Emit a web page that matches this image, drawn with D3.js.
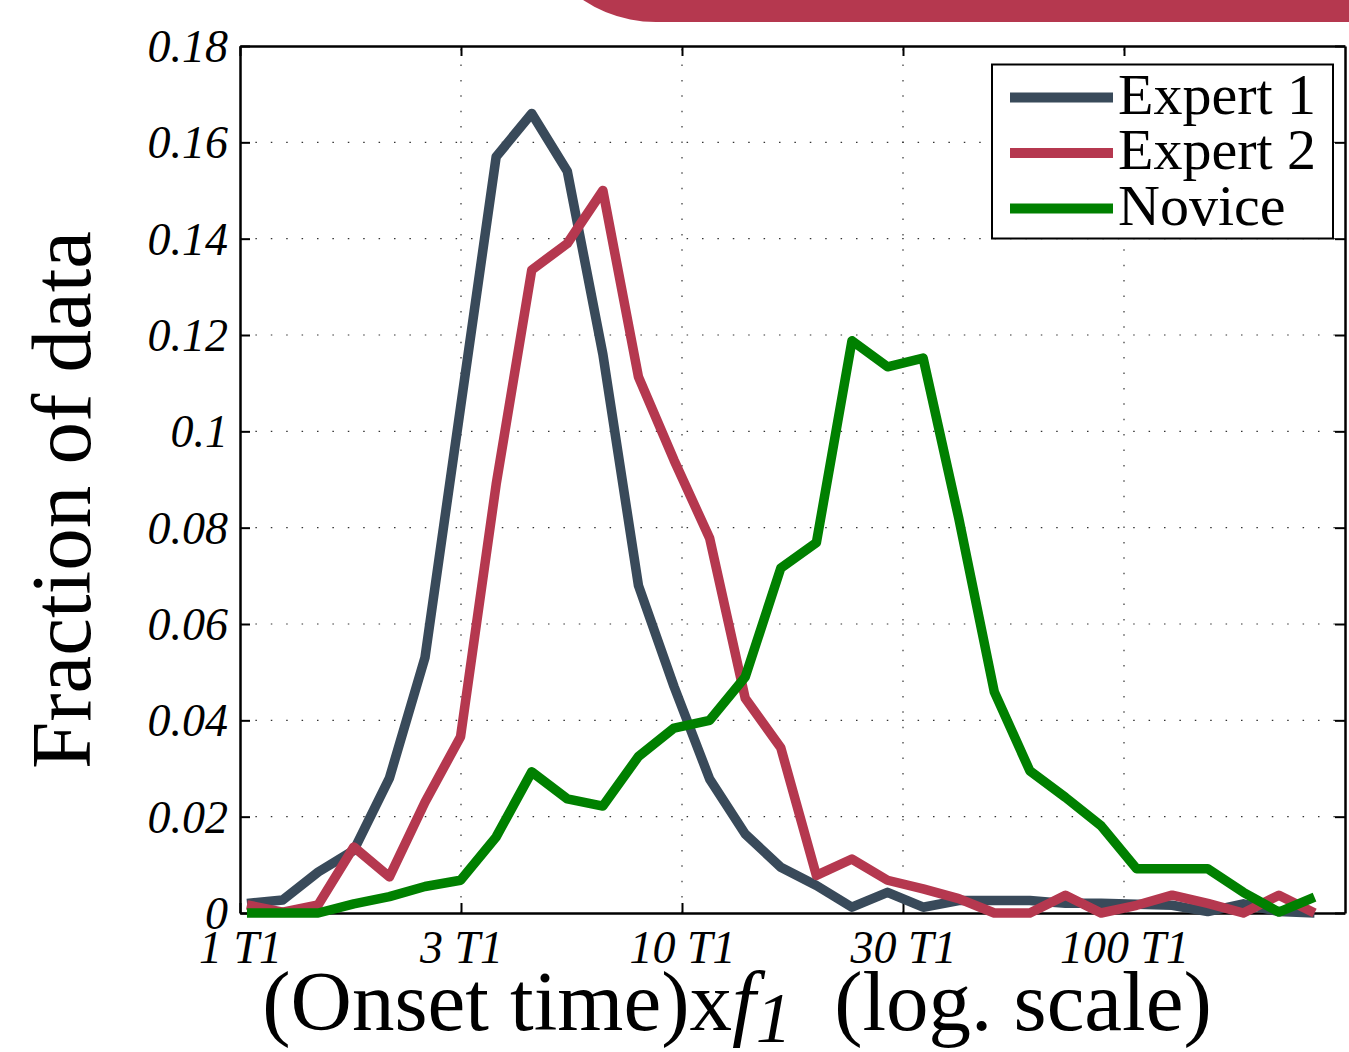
<!DOCTYPE html>
<html><head><meta charset="utf-8">
<script src="https://cdn.jsdelivr.net/npm/d3@7"></script>
<style>html,body{margin:0;padding:0;background:#fff;overflow:hidden;}</style>
</head><body>
<svg id="c" width="1349" height="1052"></svg>
<script>
// ---- data ----
const binCenters = [1.037, 1.249, 1.503, 1.809, 2.178, 2.621, 3.155, 3.798, 4.571, 5.502, 6.622, 7.970, 9.594, 11.55, 13.90, 16.73, 20.14, 24.24, 29.17, 35.12, 42.27, 50.88, 61.24, 73.71, 88.72, 106.8, 128.5, 154.7, 186.2, 224.1, 269.8];
const expert1 = [0.002, 0.0027, 0.0085, 0.013, 0.028, 0.053, 0.105, 0.157, 0.166, 0.154, 0.116, 0.068, 0.047, 0.0278, 0.0164, 0.0095, 0.0057, 0.0012, 0.0043, 0.0012, 0.0026, 0.0026, 0.0026, 0.002, 0.002, 0.0018, 0.0016, 0.0003, 0.0019, 0.0003, 0];
const expert2 = [0.0017, 0.0002, 0.0017, 0.0137, 0.0075, 0.023, 0.0366, 0.089, 0.1335, 0.139, 0.150, 0.1113, 0.094, 0.0778, 0.0446, 0.0343, 0.0078, 0.0112, 0.0068, 0.005, 0.003, 0, 0, 0.0037, 0, 0.0016, 0.0037, 0.002, 0, 0.0037, 0];
const novice = [0, 0, 0, 0.0019, 0.0034, 0.0055, 0.0068, 0.0158, 0.0293, 0.0237, 0.0222, 0.0325, 0.0384, 0.040, 0.049, 0.0716, 0.0769, 0.1188, 0.1134, 0.1152, 0.082, 0.0459, 0.0295, 0.024, 0.0181, 0.0092, 0.0092, 0.0092, 0.0043, 0.0002, 0.0033];
const seriesNames = ["Expert 1", "Expert 2", "Novice"];
const seriesColors = ["#394a5a", "#b5384f", "#008000"];
const xTickValues = [1, 3.1623, 10, 31.623, 100];
const xTickLabels = ["1 T1", "3 T1", "10 T1", "30 T1", "100 T1"];
const yTickValues = [0, 0.02, 0.04, 0.06, 0.08, 0.1, 0.12, 0.14, 0.16, 0.18];
const yTickLabels = ["0", "0.02", "0.04", "0.06", "0.08", "0.1", "0.12", "0.14", "0.16", "0.18"];
const xDomain = [1, 316.23];
const yDomain = [0, 0.18];

// ---- layout ----
const svg = d3.select("#c");
const L = 240, R = 1345, T = 46, B = 913;
const x = d3.scaleLog().domain(xDomain).range([L, R]);
const y = d3.scaleLinear().domain(yDomain).range([B, T]);
const serif = "'Liberation Serif','Times New Roman',serif";

// decorative banner top right
svg.append("rect").attr("x", 524).attr("y", -300).attr("width", 1000).attr("height", 322)
  .attr("rx", 132).attr("ry", 132).attr("fill", "#b5384f");

// grid
const grid = svg.append("g").attr("stroke", "#333").attr("stroke-width", 1.2).attr("stroke-dasharray", "1.5,13.9");
grid.selectAll("line.h").data(yTickValues.slice(1, -1)).join("line")
  .attr("x1", L).attr("x2", R).attr("y1", d => y(d)).attr("y2", d => y(d));
grid.selectAll("line.v").data(xTickValues.slice(1)).join("line")
  .attr("class", "v").attr("y1", B).attr("y2", T).attr("x1", d => x(d)).attr("x2", d => x(d));

// axes with inward ticks
const axB = svg.append("g").attr("transform", `translate(0,${B})`)
  .call(d3.axisBottom(x).tickValues(xTickValues).tickSize(-10).tickSizeOuter(0).tickPadding(17)
    .tickFormat((d, i) => xTickLabels[i]));
const axT = svg.append("g").attr("transform", `translate(0,${T})`)
  .call(d3.axisTop(x).tickValues(xTickValues).tickSize(-10).tickSizeOuter(0).tickFormat(""));
const axL = svg.append("g").attr("transform", `translate(${L},0)`)
  .call(d3.axisLeft(y).tickValues(yTickValues).tickSize(-10).tickSizeOuter(0).tickPadding(12)
    .tickFormat((d, i) => yTickLabels[i]));
const axR = svg.append("g").attr("transform", `translate(${R},0)`)
  .call(d3.axisRight(y).tickValues(yTickValues).tickSize(-10).tickSizeOuter(0).tickFormat(""));
[axB, axT, axL, axR].forEach(a => {
  a.select(".domain").attr("stroke", "#000").attr("stroke-width", 2.5);
  a.selectAll(".tick line").attr("stroke", "#000").attr("stroke-width", 2);
  a.selectAll("text").attr("font-family", serif).attr("font-style", "italic")
    .attr("font-size", 46).attr("fill", "#000");
});
axB.selectAll(".tick text").attr("dy", "0.71em");
axL.selectAll(".tick text").attr("dy", "0.34em");

// lines
const line = d3.line().x((d, i) => x(binCenters[i])).y(d => y(d));
[expert1, expert2, novice].forEach((s, i) => {
  svg.append("path").datum(s).attr("d", line).attr("fill", "none")
    .attr("stroke", seriesColors[i]).attr("stroke-width", 9.5)
    .attr("stroke-linejoin", "round").attr("stroke-linecap", "butt");
});

// legend
const lg = svg.append("g");
lg.append("rect").attr("x", 992).attr("y", 64.5).attr("width", 341).attr("height", 174)
  .attr("fill", "#fff").attr("stroke", "#000").attr("stroke-width", 2);
seriesNames.forEach((n, i) => {
  const yy = 97.5 + i * 55.5;
  lg.append("line").attr("x1", 1010).attr("x2", 1113).attr("y1", yy).attr("y2", yy)
    .attr("stroke", seriesColors[i]).attr("stroke-width", 10);
  lg.append("text").attr("x", 1118).attr("y", yy + 16).text(n)
    .attr("font-family", serif).attr("font-size", 58).attr("fill", "#000");
});

// axis labels
svg.append("text").attr("transform", "translate(90,500) rotate(-90)")
  .attr("text-anchor", "middle").attr("font-family", serif).attr("font-size", 85)
  .text("Fraction of data");
const xl = svg.append("text").attr("x", 737).attr("y", 1030).attr("text-anchor", "middle")
  .attr("font-family", serif).attr("font-size", 85);
xl.append("tspan").text("(Onset time)x");
xl.append("tspan").attr("font-style", "italic").text("f");
xl.append("tspan").attr("font-style", "italic").attr("font-size", 72).attr("dy", 12).text("1");
xl.append("tspan").attr("dy", -12).text("\u00a0\u00a0(log. scale)");
</script>
</body></html>
